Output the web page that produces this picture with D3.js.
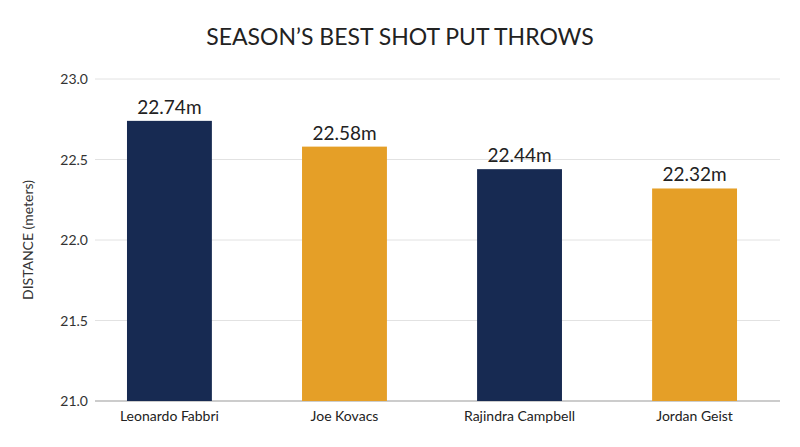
<!DOCTYPE html>
<html><head><meta charset="utf-8">
<script src="https://cdn.jsdelivr.net/npm/d3@7"></script>
<style>body{margin:0;background:#fff;font-family:Lato,"Open Sans",sans-serif}</style>
</head><body><svg id="c" width="800" height="447"></svg>
<script>
var athletes = ["Leonardo Fabbri", "Joe Kovacs", "Rajindra Campbell", "Jordan Geist"];
var distances = [22.74, 22.58, 22.44, 22.32];
var barColors = ["#172a52", "#e59f27", "#172a52", "#e59f27"];
var yTicks = [21.0, 21.5, 22.0, 22.5, 23.0];

var svg = d3.select("#c");
var x = d3.scaleBand().domain(athletes).range([82, 782]).paddingInner(0.515).paddingOuter(0.257);
var y = d3.scaleLinear().domain([21, 23]).range([401, 79]);

svg.append("text").attr("x", 400).attr("y", 45).attr("text-anchor", "middle")
  .attr("font-size", 23).attr("fill", "#222").text("SEASON’S BEST SHOT PUT THROWS");

svg.selectAll(".grid").data(yTicks).enter().append("line")
  .attr("x1", 95).attr("x2", 780).attr("y1", d => y(d)).attr("y2", d => y(d))
  .attr("stroke", d => d === 21 ? "#999" : "#e2e2e2").attr("stroke-width", 1);

svg.selectAll(".yl").data(yTicks).enter().append("text")
  .attr("x", 88).attr("y", d => y(d) + 5).attr("text-anchor", "end")
  .attr("font-size", 14).attr("fill", "#333").text(d => d.toFixed(1));

svg.append("text").attr("transform", "translate(33,240) rotate(-90)")
  .attr("text-anchor", "middle").attr("font-size", 14).attr("fill", "#333")
  .text("DISTANCE (meters)");

svg.selectAll(".bar").data(athletes).enter().append("rect")
  .attr("x", d => x(d)).attr("width", x.bandwidth())
  .attr("y", (d, i) => y(distances[i])).attr("height", (d, i) => 401 - y(distances[i]))
  .attr("fill", (d, i) => barColors[i]);

svg.selectAll(".val").data(athletes).enter().append("text")
  .attr("x", d => x(d) + x.bandwidth() / 2).attr("y", (d, i) => y(distances[i]) - 7)
  .attr("text-anchor", "middle").attr("font-size", 19).attr("fill", "#222")
  .text((d, i) => distances[i].toFixed(2) + "m");

svg.selectAll(".xl").data(athletes).enter().append("text")
  .attr("x", d => x(d) + x.bandwidth() / 2).attr("y", 421)
  .attr("text-anchor", "middle").attr("font-size", 14).attr("fill", "#222").text(d => d);
</script></body></html>
